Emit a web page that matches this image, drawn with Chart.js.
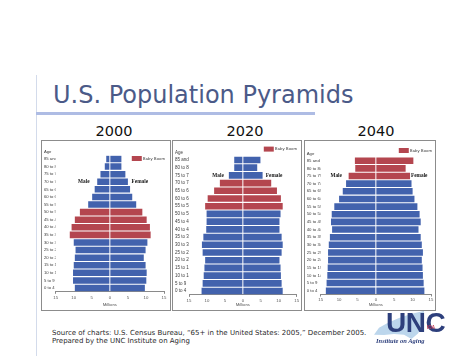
<!DOCTYPE html>
<html>
<head>
<meta charset="utf-8">
<script src="https://cdn.jsdelivr.net/npm/chart.js@4/dist/chart.umd.min.js"></script>
<style>
  html, body { margin: 0; padding: 0; background: #fff; }
  #slide { position: relative; width: 475px; height: 356px; overflow: hidden; background: #fff; font-family: "DejaVu Sans", sans-serif; }
  .vline { position: absolute; left: 36px; top: 75px; width: 1px; height: 281px; background: #d3dbeb; }
  .uline { position: absolute; left: 36px; top: 112px; width: 279px; height: 3px; background: #aebce4; }
  .title { position: absolute; left: 53px; top: 83px; font-size: 24px; line-height: 24px; color: #4b5a88; white-space: nowrap; }
  .year { position: absolute; width: 100px; text-align: center; top: 124px; font-size: 14.5px; line-height: 14.5px; color: #111; }
  .panel { position: absolute; top: 140px; height: 171px; border: 1px solid #8c8c8c; box-sizing: border-box; background: #fff; }
  .panel canvas { position: absolute; left: 0; top: 0; }
  .source { position: absolute; left: 52px; top: 329px; font-size: 7px; line-height: 8.3px; color: #2a2a2a; white-space: nowrap; }
  .map { position: absolute; left: 374px; top: 311px; width: 50px; height: 28px; background: #bcd6ec;
         clip-path: polygon(0% 85%, 10% 60%, 28% 42%, 50% 25%, 75% 10%, 100% 0%, 98% 50%, 88% 80%, 75% 100%, 60% 85%, 40% 82%, 20% 86%); }
  .unc { position: absolute; left: 386px; top: 309px; font-family: "Liberation Sans Narrow", "Liberation Sans", sans-serif; font-weight: bold; font-size: 28px; line-height: 28px; color: #2d3f7c; letter-spacing: -0.5px; }
  .ioa { position: absolute; left: 427px; top: 325px; font-family: "Liberation Sans", sans-serif; font-weight: bold; font-size: 4.5px; color: #c0344e; }
  .ioa-sub { position: absolute; left: 376px; top: 337px; font-family: "Liberation Serif", serif; font-weight: bold; font-style: italic; font-size: 6.5px; color: #2d3f7c; white-space: nowrap; }
</style>
</head>
<body>
<div id="slide">
  <div class="vline"></div>
  <div class="title">U.S. Population Pyramids</div>
  <div class="uline"></div>

  <div class="year" style="left:64px">2000</div>
  <div class="year" style="left:195px">2020</div>
  <div class="year" style="left:326px">2040</div>

  <div class="panel" style="left:41px; width:130px;"><canvas id="c2000" width="128" height="169"></canvas></div>
  <div class="panel" style="left:172px; width:130px;"><canvas id="c2020" width="128" height="169"></canvas></div>
  <div class="panel" style="left:304px; width:132px;"><canvas id="c2040" width="130" height="169"></canvas></div>

  <div class="source">Source of charts: U.S. Census Bureau, &ldquo;65+ in the United States: 2005,&rdquo; December 2005.<br>Prepared by the UNC Institute on Aging</div>

  <div class="map"></div>
  <div class="unc">UNC</div>
  <div class="ioa">IOA</div>
  <div class="ioa-sub">Institute on Aging</div>
</div>

<script>
// ---------- data ----------
const ageGroups = ['85 and over','80 to 84','75 to 79','70 to 74','65 to 69','60 to 64','55 to 59','50 to 54','45 to 49',
                   '40 to 44','35 to 39','30 to 34','25 to 29','20 to 24','15 to 19','10 to 14','5 to 9','0 to 4'];
const xTicks = [-15, -10, -5, 0, 5, 10, 15];

const male2000   = [1.0, 1.4, 2.6, 3.5, 4.2, 4.9, 6.0, 8.3, 9.7, 10.6, 11.1, 10.0, 9.5, 9.7, 10.0, 10.2, 10.2, 9.7];
const female2000 = [3.2, 3.2, 4.3, 5.0, 5.6, 6.2, 7.3, 9.0, 10.2, 11.1, 11.3, 10.4, 9.9, 9.4, 9.9, 10.2, 10.1, 9.7];
const boom2000   = ['50 to 54','45 to 49','40 to 44','35 to 39'];

const male2020   = [2.4, 2.4, 3.9, 6.4, 8.0, 9.8, 10.5, 10.1, 10.1, 10.2, 11.0, 11.4, 11.2, 10.5, 10.7, 10.9, 11.2, 11.5];
const female2020 = [4.9, 4.0, 5.5, 7.9, 9.5, 10.6, 11.1, 10.5, 10.2, 10.2, 10.8, 11.1, 10.8, 10.2, 10.5, 10.6, 10.8, 11.1];
const boom2020   = ['70 to 74','65 to 69','60 to 64','55 to 59'];

const male2040   = [5.7, 5.6, 7.4, 8.1, 9.0, 10.0, 11.3, 12.0, 12.2, 11.9, 12.5, 12.8, 13.0, 13.0, 13.1, 13.2, 13.4, 13.6];
const female2040 = [10.2, 8.1, 9.3, 9.7, 10.0, 10.5, 11.3, 11.9, 12.2, 11.6, 12.2, 12.5, 12.8, 12.5, 12.7, 12.8, 13.0, 13.2];
const boom2040   = ['85 and over','80 to 84','75 to 79'];

// ---------- styles ----------
const BLUE = '#4262ad';
const RED  = '#b4464f';
const TINY = '"Liberation Sans", Arial, sans-serif';

const annotate = {
  id: 'annotate',
  afterDraw(chart, args, o) {
    const {ctx, chartArea, scales: {x, y}} = chart;
    ctx.save();
    ctx.textBaseline = 'middle';
    ctx.font = o.fs + 'px ' + TINY;
    ctx.fillStyle = '#3a3a3a';
    ctx.textAlign = 'left';
    ctx.fillText('Age', y.left, chartArea.top - o.ageDy);
    ctx.font = 'bold 5.3px "Liberation Serif", serif';
    ctx.fillStyle = '#151515';
    ctx.textAlign = 'center';
    const ry = y.getPixelForValue(ageGroups.indexOf(o.sexRow));
    ctx.fillText('Male', x.getPixelForValue(o.maleAt), ry);
    ctx.fillText('Female', x.getPixelForValue(o.femaleAt), ry);
    ctx.font = '4.3px ' + TINY;
    ctx.fillStyle = '#444';
    ctx.textAlign = 'right';
    const tx = chartArea.right + o.legDx;
    const ly = chartArea.top + o.legDy;
    ctx.fillText('Baby Boom', tx, ly);
    const tw = ctx.measureText('Baby Boom').width;
    ctx.fillStyle = RED;
    ctx.fillRect(tx - tw - 11, ly - 2.5, 10, 5);
    ctx.restore();
  }
};

function pyramid(id, male, female, boom, L) {
  const colors = ageGroups.map(g => boom.includes(g) ? RED : BLUE);
  const font = {family: TINY, size: L.fs};
  return new Chart(document.getElementById(id), {
    type: 'bar',
    data: {
      labels: ageGroups,
      datasets: [
        {label: 'Male', data: male.map(v => -v), backgroundColor: colors, barPercentage: 0.86, categoryPercentage: 1},
        {label: 'Female', data: female, backgroundColor: colors, barPercentage: 0.86, categoryPercentage: 1}
      ]
    },
    options: {
      indexAxis: 'y',
      responsive: false,
      animation: false,
      events: [],
      layout: {padding: {left: L.pl, right: L.pr, top: L.pt, bottom: L.pb}},
      plugins: {
        legend: {display: false},
        tooltip: {enabled: false},
        annotate: {fs: L.fs, ageDy: L.ageDy, sexRow: L.sexRow, maleAt: L.maleAt, femaleAt: L.femaleAt, legDx: L.legDx, legDy: L.legDy}
      },
      scales: {
        x: {
          stacked: true, min: -15, max: 15,
          afterBuildTicks: s => { s.ticks = xTicks.map(v => ({value: v})); },
          ticks: {callback: v => Math.abs(v), font: {family: TINY, size: 4.3}, color: '#555', padding: 1, maxRotation: 0, autoSkip: false},
          grid: {drawOnChartArea: false, tickLength: 2, color: c => (c.tick && Math.abs(c.tick.value) === 15) ? '#888' : 'rgba(0,0,0,0)'},
          border: {color: '#8a8a8a'},
          title: {display: true, text: 'Millions', font: {family: TINY, size: 4.3}, color: '#555', padding: 0},
          afterFit: s => { s.height = L.xh; }
        },
        y: {
          stacked: true,
          grid: {display: false},
          border: {display: false},
          ticks: {crossAlign: 'far', font, color: '#3a3a3a', padding: 0, autoSkip: false},
          afterFit: s => { s.width = L.yw; }
        }
      }
    },
    plugins: [annotate]
  });
}

pyramid('c2000', male2000, female2000, boom2000,
  {pl: 2, pr: 6, pt: 14.2, pb: 2.4, yw: 11.7, xh: 15.8, fs: 4.2, ageDy: 3.5,
   sexRow: '70 to 74', maleAt: -7.2, femaleAt: 8.3, legDx: 1, legDy: 3.3});
pyramid('c2020', male2020, female2020, boom2020,
  {pl: 2, pr: 4.3, pt: 15.1, pb: 2.4, yw: 14, xh: 12.7, fs: 4.5, ageDy: 3.5,
   sexRow: '75 to 79', maleAt: -6.9, femaleAt: 8.7, legDx: 0.3, legDy: -7});
pyramid('c2040', male2040, female2040, boom2040,
  {pl: 1.7, pr: 4, pt: 15.9, pb: 2.4, yw: 14, xh: 13.1, fs: 4.3, ageDy: 3.5,
   sexRow: '75 to 79', maleAt: -10.8, femaleAt: 11.8, legDx: 1, legDy: -6.4});
</script>
</body>
</html>
